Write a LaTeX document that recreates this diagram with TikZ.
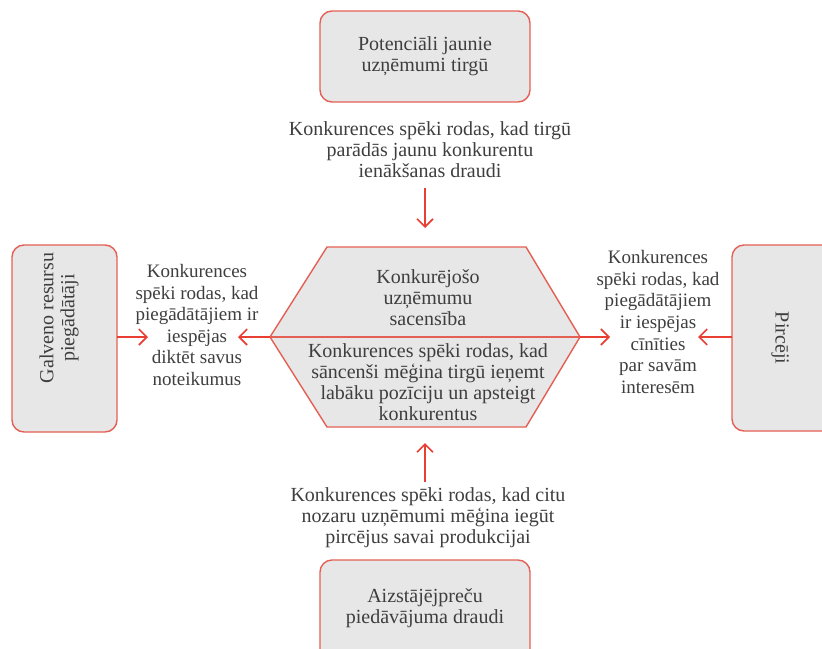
\documentclass[tikz,border=0pt]{standalone}
\usepackage{fontspec}
\setmainfont{Liberation Serif}
\usetikzlibrary{arrows.meta}
\definecolor{boxfill}{RGB}{231,231,232}
\definecolor{boxline}{RGB}{228,96,84}
\definecolor{arrowred}{RGB}{232,62,52}
\definecolor{txt}{RGB}{62,62,62}
\tikzset{
  forcebox/.style={draw=boxline, fill=boxfill, line width=1.4pt, rounded corners=12pt},
  lbl/.style={text=txt, align=center, font=\fontsize{20}{21}\selectfont, inner sep=0pt},
  sidelbl/.style={lbl, font=\fontsize{19}{21.6}\selectfont},
  arr/.style={draw=arrowred, line width=1.6pt, -{Straight Barb[length=8pt,width=16pt,line width=1.6pt]}},
}
\begin{document}
\begin{tikzpicture}[x=1pt,y=-1pt]
\useasboundingbox (0,0) rectangle (822,648);
\clip (0,0) rectangle (822,648);
% boxes
\draw[forcebox] (320,11) rectangle (530,102);
\node[lbl] (topbox) at (425,56) {Potenciāli jaunie\\uzņēmumi tirgū};
\draw[forcebox] (320,560) rectangle (530,662);
\node[lbl] (botbox) at (425,608) {Aizstājējpreču\\piedāvājuma draudi};
\draw[forcebox] (12,245) rectangle (117,432);
\node[lbl, rotate=90] (leftbox) at (59,318) {Galveno resursu\\piegādātāji};
\draw[forcebox] (732,245) rectangle (840,431);
\node[lbl, rotate=-90] (rightbox) at (780,338) {Pircēji};
% hexagon
\coordinate (hexL) at (270,337);
\coordinate (hexR) at (580,337);
\draw[draw=boxline, fill=boxfill, line width=1.4pt] (hexL) -- (327,247) -- (526,247) -- (hexR) -- (526,427) -- (327,427) -- cycle;
\draw[draw=boxline, line width=1.4pt] (hexL) -- (hexR);
\node[lbl] (hexup) at (428,298) {Konkurējošo\\uzņēmumu\\sacensība};
\node[lbl] (hexlow) at (428,382) {Konkurences spēki rodas, kad\\sāncenši mēģina tirgū ieņemt\\labāku pozīciju un apsteigt\\konkurentus};
% labels
\node[lbl] (toplbl) at (430,150) {Konkurences spēki rodas, kad tirgū\\parādās jaunu konkurentu\\ienākšanas draudi};
\node[lbl] (botlbl) at (428,518) {Konkurences spēki rodas, kad citu\\nozaru uzņēmumi mēģina iegūt\\pircējus savai produkcijai};
\node[sidelbl] (leftlbl) at (197,325) {Konkurences\\spēki rodas, kad\\piegādātājiem ir\\iespējas\\diktēt savus\\noteikumus};
\node[sidelbl] (rightlbl) at (658,322) {Konkurences\\spēki rodas, kad\\piegādātājiem\\ir iespējas\\cīnīties\\par savām\\interesēm};
% arrows
\coordinate (tA) at (425,188); \coordinate (tB) at (425,228);
\coordinate (bA) at (425,482); \coordinate (bB) at (425,443);
\coordinate (lA) at (117,337); \coordinate (lB) at (148,337);
\coordinate (hlB) at (238,337);
\coordinate (hrB) at (610,337);
\coordinate (rA) at (732,337); \coordinate (rB) at (698,337);
\draw[arr] (tA) -- (tB);
\draw[arr] (bA) -- (bB);
\draw[arr] (lA) -- (lB);
\draw[arr] (hexL) -- (hlB);
\draw[arr] (hexR) -- (hrB);
\draw[arr] (rA) -- (rB);
\end{tikzpicture}
\end{document}
